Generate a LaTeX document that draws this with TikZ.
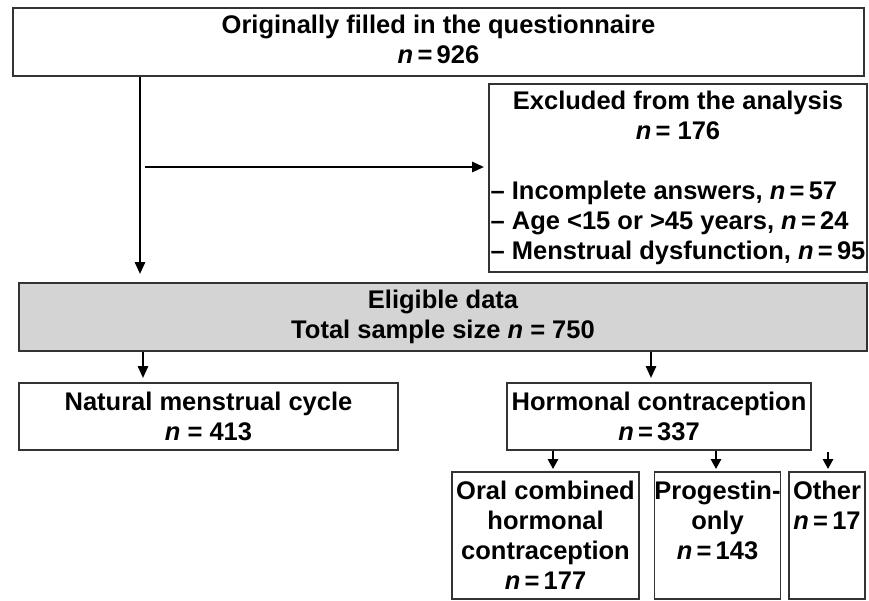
\documentclass[tikz,border=0pt]{standalone}
\usepackage{fontspec}
\setmainfont{Liberation Sans}
\usetikzlibrary{arrows.meta}
\definecolor{boxline}{HTML}{333333}
\definecolor{elfill}{HTML}{D4D4D4}
\begin{document}
\begin{tikzpicture}[x=1pt,y=-1pt,
  box/.style={draw=boxline, line width=1.8pt, rectangle, inner sep=0pt, align=center,
    font=\fontsize{25.5}{30}\selectfont\bfseries},
  arr/.style={line width=2.6pt, -{Triangle[length=12pt,width=10pt]}},
  subarr/.style={line width=2.6pt, -{Triangle[length=10pt,width=10pt]}}]
\useasboundingbox (0,0) rectangle (869,600);

\node[box, minimum width=851pt, minimum height=68pt] (top) at (438.5,42)
  {Originally filled in the questionnaire\\\textit{n}\,=\,926\rule[-5pt]{0pt}{0pt}};

\node[box, minimum width=378pt, minimum height=188pt] (excl) at (678,178)
  {\begin{tabular}{@{}l@{}}
   \multicolumn{1}{@{}c@{}}{Excluded from the analysis}\\
   \multicolumn{1}{@{}c@{}}{\textit{n}\,= 176}\\[30pt]
   – Incomplete answers, \textit{n}\,=\,57\\
   – Age <15 or >45 years, \textit{n}\,=\,24\\
   – Menstrual dysfunction, \textit{n}\,=\,95
   \end{tabular}};

\node[box, fill=elfill, minimum width=848pt, minimum height=68pt] (elig) at (443,317)
  {Eligible data\\Total sample size \textit{n} = 750};

\node[box, minimum width=379pt, minimum height=67pt] (nat) at (208.5,416.5)
  {Natural menstrual cycle\\\textit{n} = 413};

\node[box, minimum width=304pt, minimum height=67pt] (horm) at (659,416.5)
  {Hormonal contraception\\\textit{n}\,=\,337};

\node[box, minimum width=187pt, minimum height=127pt] (oral) at (545.5,535.5)
  {Oral combined\\hormonal\\contraception\\\textit{n}\,=\,177};

\node[box, minimum width=125pt, minimum height=127pt] (prog) at (717.5,535.5)
  {Progestin-\\only\\\textit{n}\,=\,143\\\phantom{\textit{n}\,=\,177}};

\node[box, minimum width=76pt, minimum height=127pt] (other) at (827,535.5)
  {Other\\\textit{n}\,=\,17\\\phantom{0}\\\phantom{\textit{n}\,=\,1}};

\coordinate (vx) at (140,0);
\coordinate (hs) at (145,167);
\coordinate (natx) at (143,0);
\coordinate (hormx) at (651,0);
\coordinate (oralx) at (553,0);
\coordinate (progx) at (716,0);
\coordinate (othstart) at (828,452);

\draw[arr, shorten >=8pt] (top.south -| vx) -- (elig.north -| vx);
\draw[arr, shorten >=4pt] (hs) -- (hs -| excl.west);
\draw[arr, shorten >=4pt] (elig.south -| natx) -- (nat.north -| natx);
\draw[arr, shorten >=4pt] (elig.south -| hormx) -- (horm.north -| hormx);
\draw[subarr, shorten >=2pt] (horm.south -| oralx) -- (oral.north -| oralx);
\draw[subarr, shorten >=2pt] (horm.south -| progx) -- (prog.north -| progx);
\draw[subarr, shorten >=2pt] (othstart) -- (othstart |- other.north);
\end{tikzpicture}
\end{document}
